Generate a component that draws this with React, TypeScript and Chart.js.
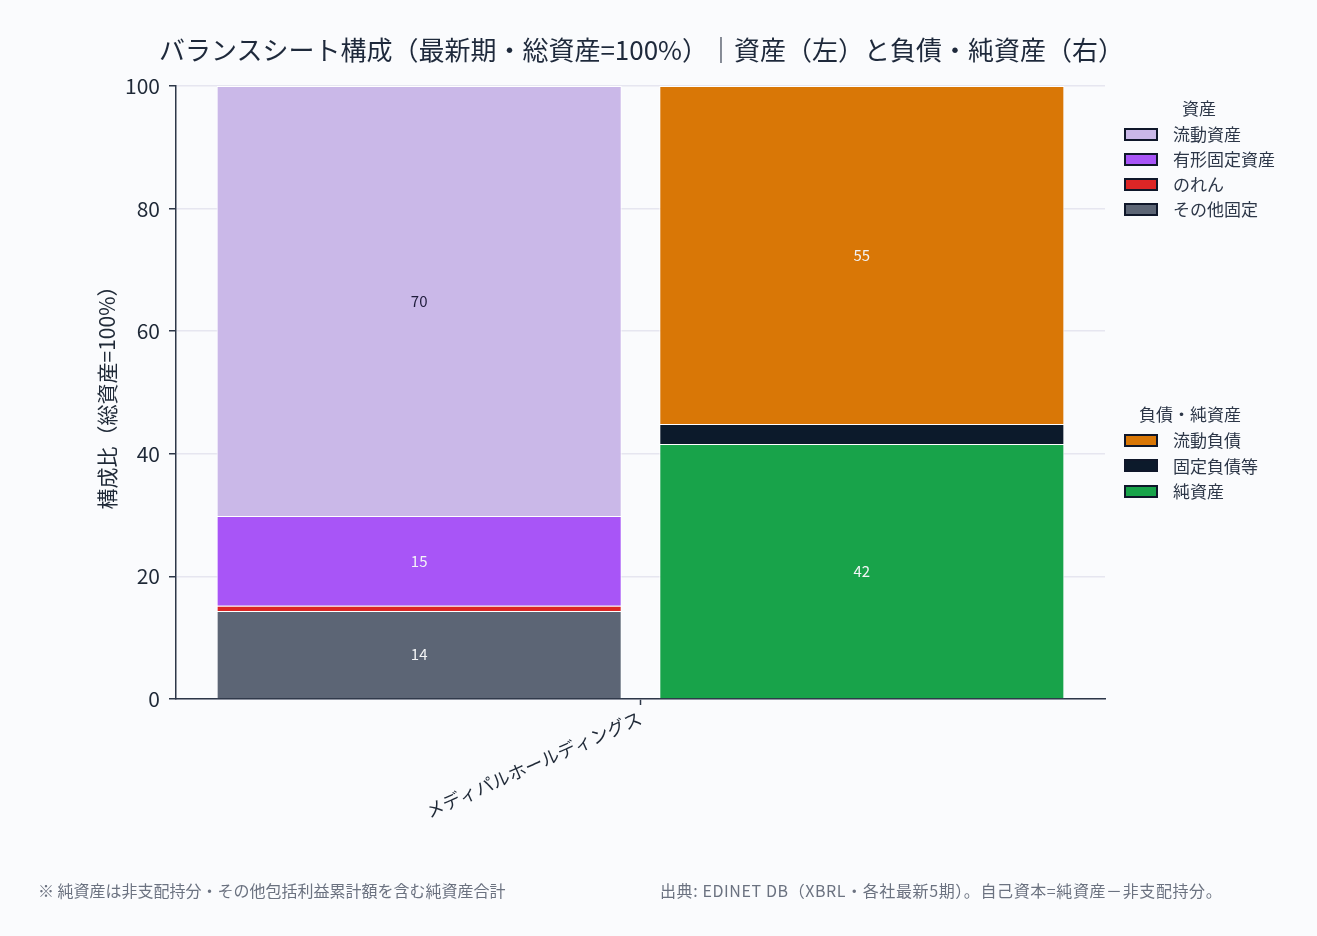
import React, { useEffect, useRef } from "react";
import { Chart, registerables } from "chart.js";

Chart.register(...registerables);

// ---- data ----
const categories = ["メディパルホールディングス"];
const assetLabels = ["その他固定", "のれん", "有形固定資産", "流動資産"];
const assetValues = [14.36, 0.85, 14.65, 70.14];
const liabLabels = ["純資産", "固定負債等", "流動負債"];
const liabValues = [41.6, 3.26, 55.14];
const yTickValues = [0, 20, 40, 60, 80, 100];

// legend order (top to bottom)
const assetLegend = ["流動資産", "有形固定資産", "のれん", "その他固定"];
const liabLegend = ["流動負債", "固定負債等", "純資産"];

// ---- styles ----
const FONT = '"Noto Sans CJK JP", "Noto Sans", sans-serif';
const BG = "#fafbfd";
const colorMap: Record<string, string> = {
  流動資産: "#cab8e8",
  有形固定資産: "#a855f7",
  のれん: "#dc2626",
  その他固定: "#5c6575",
  流動負債: "#d97706",
  固定負債等: "#0c1a2b",
  純資産: "#18a34a",
};
const labelColorMap: Record<string, string> = {
  流動資産: "#1e1b3a",
};

const segLabelPlugin = {
  id: "segLabels",
  afterDatasetsDraw(chart: any) {
    const ctx = chart.ctx;
    chart.data.datasets.forEach((ds: any, i: number) => {
      const meta = chart.getDatasetMeta(i);
      meta.data.forEach((bar: any, j: number) => {
        const v = ds.data[j];
        if (v < 5) return;
        const { x, y } = bar.getCenterPoint();
        ctx.save();
        ctx.font = `15px ${FONT}`;
        ctx.fillStyle = labelColorMap[ds.label] || "#f3f4f6";
        ctx.textAlign = "center";
        ctx.textBaseline = "middle";
        ctx.fillText(String(Math.round(v)), x, y);
        ctx.restore();
      });
    });
  },
};

export default function App() {
  const ref = useRef<HTMLCanvasElement | null>(null);

  useEffect(() => {
    document.body.style.margin = "0";
    document.body.style.background = BG;
    if (!ref.current) return;
    const datasets: any[] = [];
    assetLabels.forEach((l, i) => {
      datasets.push({
        label: l,
        data: [assetValues[i]],
        backgroundColor: colorMap[l],
        borderColor: "#ffffff",
        borderWidth: 1,
        stack: "assets",
      });
    });
    liabLabels.forEach((l, i) => {
      datasets.push({
        label: l,
        data: [liabValues[i]],
        backgroundColor: colorMap[l],
        borderColor: "#ffffff",
        borderWidth: 1,
        stack: "liab",
      });
    });
    const chart = new Chart(ref.current, {
      type: "bar",
      data: { labels: categories, datasets },
      plugins: [segLabelPlugin],
      options: {
        animation: false,
        responsive: false,
        devicePixelRatio: 1,
        layout: { padding: { left: 0, top: 86, right: 212, bottom: 0 } },
        datasets: {
          bar: { categoryPercentage: 0.953, barPercentage: 0.915 },
        },
        plugins: {
          legend: { display: false },
          tooltip: { enabled: false },
          title: { display: false },
        },
        scales: {
          x: {
            stacked: true,
            grid: {
              display: true,
              drawOnChartArea: false,
              drawTicks: true,
              tickLength: 6,
              tickColor: "#2d3748",
              tickWidth: 1.5,
              offset: false,
            },
            border: { display: true, color: "#2d3748", width: 1.5 },
            ticks: {
              color: "#1f2937",
              font: { family: FONT, size: 18 },
              minRotation: 24,
              maxRotation: 24,
              padding: 2,
            },
            afterFit: (scale: any) => {
              scale.height = 936 - 699;
            },
          },
          y: {
            stacked: true,
            min: 0,
            max: 100,
            afterBuildTicks: (scale: any) => {
              scale.ticks = yTickValues.map((v) => ({ value: v }));
            },
            grid: {
              color: "#e6e6f0",
              lineWidth: 1.5,
              drawTicks: true,
              tickLength: 7,
              tickColor: "#2d3748",
              tickWidth: 1.5,
            },
            border: { display: true, color: "#2d3748", width: 1.5 },
            ticks: {
              color: "#1f2937",
              font: { family: FONT, size: 21 },
              padding: 9,
            },
            title: {
              display: true,
              text: "構成比（総資産=100%）",
              color: "#1f2937",
              font: { family: FONT, size: 21 },
              padding: { top: 94, bottom: 0 },
            },
            afterFit: (scale: any) => {
              scale.width = 176;
            },
          },
        },
      },
    });
    return () => chart.destroy();
  }, []);

  const legendRow = (name: string, top: number) => (
    <div key={name} style={{ position: "absolute", left: 1124, top: top - 10, height: 20, display: "flex", alignItems: "center" }}>
      <div style={{ width: 30, height: 9, background: colorMap[name], border: "2px solid #0f172a" }} />
      <span style={{ marginLeft: 15, fontSize: 17, color: "#2d3748", lineHeight: "20px" }}>{name}</span>
    </div>
  );

  return (
    <div style={{ position: "relative", width: 1317, height: 936, background: BG, fontFamily: FONT, overflow: "hidden" }}>
      <canvas ref={ref} width={1317} height={936} style={{ position: "absolute", left: 0, top: 0, width: 1317, height: 936 }} />
      <div style={{ position: "absolute", left: 0, width: 1283, top: 32, textAlign: "center", fontSize: 26, lineHeight: "34px", color: "#1e293b", whiteSpace: "nowrap" }}>
        バランスシート構成（最新期・総資産=100%）｜資産（左）と負債・純資産（右）
      </div>
      <div style={{ position: "absolute", left: 1124, width: 150, top: 97, textAlign: "center", fontSize: 17, lineHeight: "22px", color: "#2d3748" }}>資産</div>
      {assetLegend.map((n, i) => legendRow(n, 134 + i * 25))}
      <div style={{ position: "absolute", left: 1124, width: 132, top: 403, textAlign: "center", fontSize: 17, lineHeight: "22px", color: "#2d3748" }}>負債・純資産</div>
      {liabLegend.map((n, i) => legendRow(n, 440 + i * 25.5))}
      <div style={{ position: "absolute", left: 38, top: 879, fontSize: 16, lineHeight: "22px", color: "#6b7280", whiteSpace: "nowrap" }}>
        ※ 純資産は非支配持分・その他包括利益累計額を含む純資産合計
      </div>
      <div style={{ position: "absolute", left: 660, top: 879, fontSize: 16, letterSpacing: 0.6, lineHeight: "22px", color: "#6b7280", whiteSpace: "nowrap" }}>
        出典: EDINET DB（XBRL・各社最新5期）。自己資本=純資産－非支配持分。
      </div>
    </div>
  );
}
